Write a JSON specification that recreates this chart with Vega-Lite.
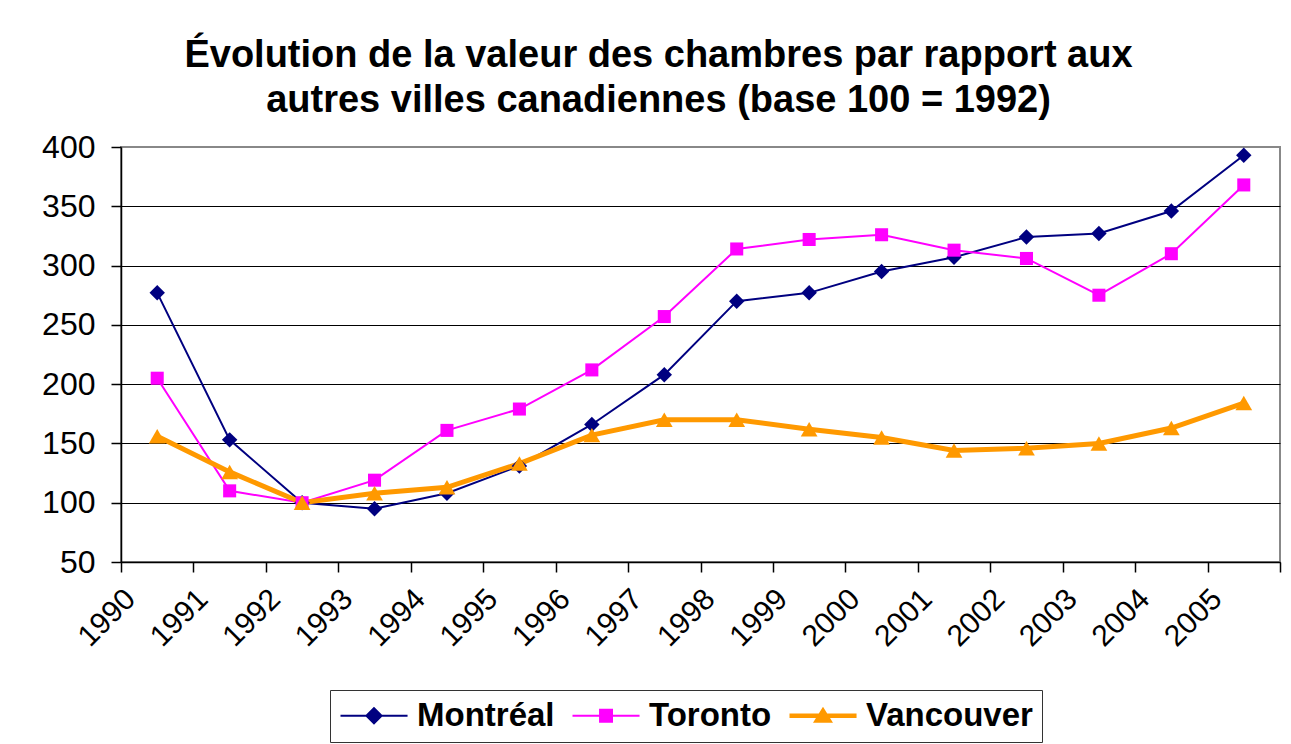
{
  "$schema": "https://vega.github.io/schema/vega-lite/v6.json",
  "width": 1159,
  "height": 415,
  "autosize": "none",
  "padding": {"left": 121, "top": 147, "right": 11, "bottom": 182},
  "background": "#ffffff",
  "config": {
    "view": {"stroke": "#888888", "strokeWidth": 2},
    "font": "Liberation Sans"
  },
  "title": {
    "text": ["Évolution de la valeur des chambres par rapport aux", "autres villes canadiennes (base 100 = 1992)"],
    "font": "Liberation Sans",
    "fontSize": 38,
    "fontWeight": "bold",
    "color": "#000000",
    "anchor": "middle",
    "dx": -42,
    "offset": 11,
    "lineHeight": 45
  },
  "data": {
    "values": [
      {"year": 1990, "city": "Montréal", "value": 277},
      {"year": 1991, "city": "Montréal", "value": 153},
      {"year": 1992, "city": "Montréal", "value": 100},
      {"year": 1993, "city": "Montréal", "value": 95},
      {"year": 1994, "city": "Montréal", "value": 108},
      {"year": 1995, "city": "Montréal", "value": 131},
      {"year": 1996, "city": "Montréal", "value": 166},
      {"year": 1997, "city": "Montréal", "value": 208},
      {"year": 1998, "city": "Montréal", "value": 270},
      {"year": 1999, "city": "Montréal", "value": 277},
      {"year": 2000, "city": "Montréal", "value": 295},
      {"year": 2001, "city": "Montréal", "value": 307},
      {"year": 2002, "city": "Montréal", "value": 324},
      {"year": 2003, "city": "Montréal", "value": 327},
      {"year": 2004, "city": "Montréal", "value": 346},
      {"year": 2005, "city": "Montréal", "value": 393},
      {"year": 1990, "city": "Toronto", "value": 205},
      {"year": 1991, "city": "Toronto", "value": 110},
      {"year": 1992, "city": "Toronto", "value": 100},
      {"year": 1993, "city": "Toronto", "value": 119},
      {"year": 1994, "city": "Toronto", "value": 161},
      {"year": 1995, "city": "Toronto", "value": 179},
      {"year": 1996, "city": "Toronto", "value": 212},
      {"year": 1997, "city": "Toronto", "value": 257},
      {"year": 1998, "city": "Toronto", "value": 314},
      {"year": 1999, "city": "Toronto", "value": 322},
      {"year": 2000, "city": "Toronto", "value": 326},
      {"year": 2001, "city": "Toronto", "value": 313},
      {"year": 2002, "city": "Toronto", "value": 306},
      {"year": 2003, "city": "Toronto", "value": 275},
      {"year": 2004, "city": "Toronto", "value": 310},
      {"year": 2005, "city": "Toronto", "value": 368},
      {"year": 1990, "city": "Vancouver", "value": 156},
      {"year": 1991, "city": "Vancouver", "value": 126},
      {"year": 1992, "city": "Vancouver", "value": 100},
      {"year": 1993, "city": "Vancouver", "value": 108},
      {"year": 1994, "city": "Vancouver", "value": 113},
      {"year": 1995, "city": "Vancouver", "value": 133},
      {"year": 1996, "city": "Vancouver", "value": 157},
      {"year": 1997, "city": "Vancouver", "value": 170},
      {"year": 1998, "city": "Vancouver", "value": 170},
      {"year": 1999, "city": "Vancouver", "value": 162},
      {"year": 2000, "city": "Vancouver", "value": 155},
      {"year": 2001, "city": "Vancouver", "value": 144},
      {"year": 2002, "city": "Vancouver", "value": 146},
      {"year": 2003, "city": "Vancouver", "value": 150},
      {"year": 2004, "city": "Vancouver", "value": 163},
      {"year": 2005, "city": "Vancouver", "value": 184}
    ]
  },
  "encoding": {
    "x": {
      "field": "year",
      "type": "ordinal",
      "scale": {"type": "band", "paddingInner": 0, "paddingOuter": 0},
      "axis": {
        "title": null,
        "labelAngle": -45,
        "labelAlign": "right",
        "labelBaseline": "middle",
        "labelFont": "Liberation Sans",
        "labelFontSize": 30,
        "labelColor": "#000000",
        "labelOffset": -27,
        "labelPadding": 22,
        "labelOverlap": false,
        "tickBand": "extent",
        "tickSize": 10,
        "tickColor": "#000000",
        "tickWidth": 1.5,
        "domainColor": "#000000",
        "domainWidth": 1.5,
        "grid": false
      }
    },
    "y": {
      "field": "value",
      "type": "quantitative",
      "scale": {"domain": [50, 400], "nice": false, "zero": false},
      "axis": {
        "title": null,
        "values": [50, 100, 150, 200, 250, 300, 350, 400],
        "labelFont": "Liberation Sans",
        "labelFontSize": 32,
        "labelColor": "#000000",
        "labelPadding": 16,
        "tickSize": 10,
        "tickColor": "#000000",
        "tickWidth": 1.5,
        "domainColor": "#000000",
        "domainWidth": 1.5,
        "grid": true,
        "gridColor": {"condition": {"test": "datum.value === 400", "value": "#888888"}, "value": "#000000"},
        "gridWidth": 1
      }
    }
  },
  "layer": [
    {
      "mark": {"type": "line"},
      "encoding": {
        "color": {
          "field": "city",
          "type": "nominal",
          "scale": {"domain": ["Montréal", "Toronto", "Vancouver"], "range": ["#000080", "#FF00FF", "#FF9900"]},
          "legend": null
        },
        "strokeWidth": {
          "field": "city",
          "type": "ordinal",
          "scale": {"type": "ordinal", "domain": ["Montréal", "Toronto", "Vancouver"], "range": [2, 2, 5]},
          "legend": null
        }
      }
    },
    {
      "mark": {"type": "point", "filled": true, "opacity": 1},
      "encoding": {
        "color": {
          "field": "city",
          "type": "nominal",
          "scale": {"domain": ["Montréal", "Toronto", "Vancouver"], "range": ["#000080", "#FF00FF", "#FF9900"]},
          "legend": null
        },
        "shape": {
          "field": "city",
          "type": "nominal",
          "scale": {"domain": ["Montréal", "Toronto", "Vancouver"], "range": ["diamond", "square", "triangle-up"]},
          "legend": null
        },
        "size": {
          "field": "city",
          "type": "ordinal",
          "scale": {"type": "ordinal", "domain": ["Montréal", "Toronto", "Vancouver"], "range": [240, 170, 280]},
          "legend": null
        }
      }
    },
    {
      "mark": {"type": "point", "filled": true, "opacity": 0},
      "encoding": {
        "color": {
          "field": "city",
          "type": "nominal",
          "scale": {"domain": ["Montréal", "Toronto", "Vancouver"], "range": ["#000080", "#FF00FF", "#FF9900"]},
          "legend": {
            "title": null,
            "orient": "none",
            "direction": "horizontal",
            "legendX": 209,
            "legendY": 543,
            "strokeColor": "#333333",
            "padding": 9,
            "labelFont": "Liberation Sans",
            "labelFontWeight": "bold",
            "labelFontSize": 33,
            "labelLimit": 500,
            "labelColor": "#000000",
            "labelOffset": 45,
            "columnPadding": 16,
            "symbolSize": 900,
            "symbolOpacity": 1,
            "symbolStrokeWidth": 0
          }
        },
        "shape": {
          "field": "city",
          "type": "nominal",
          "scale": {
            "domain": ["Montréal", "Toronto", "Vancouver"],
            "range": [
              "M-1,-0.07H3.47V0.07H-1Z M1.233,-0.6L1.833,0L1.233,0.6L0.633,0Z",
              "M-1,-0.07H3.47V0.07H-1Z M0.77,-0.47H1.7V0.47H0.77Z",
              "M-1,-0.15H3.47V0.15H-1Z M1.233,-0.6L1.9,0.47H0.567Z"
            ]
          },
          "legend": {
            "title": null,
            "orient": "none",
            "direction": "horizontal",
            "legendX": 209,
            "legendY": 543,
            "strokeColor": "#333333",
            "padding": 9,
            "labelFont": "Liberation Sans",
            "labelFontWeight": "bold",
            "labelFontSize": 33,
            "labelLimit": 500,
            "labelColor": "#000000",
            "labelOffset": 45,
            "columnPadding": 16,
            "symbolSize": 900,
            "symbolOpacity": 1,
            "symbolStrokeWidth": 0
          }
        }
      }
    }
  ],
  "resolve": {
    "scale": {"color": "independent", "shape": "independent", "size": "independent", "strokeWidth": "independent"}
  }
}
